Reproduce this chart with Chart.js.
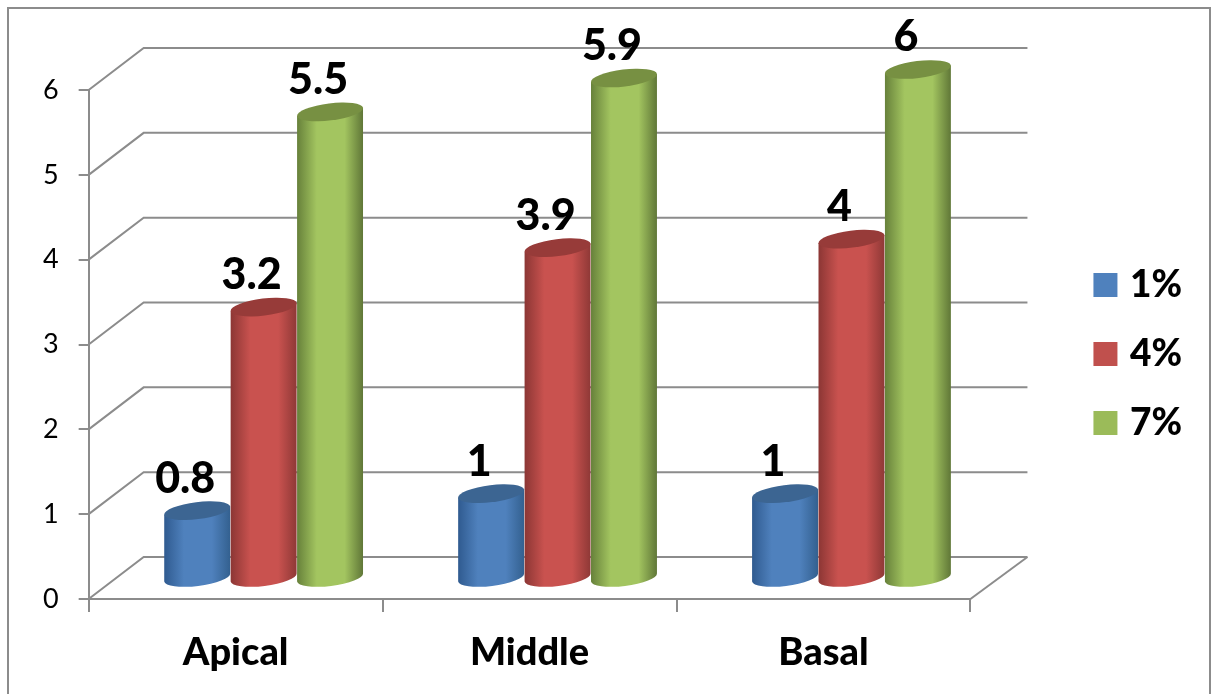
<!DOCTYPE html>
<html>
<head>
<meta charset="utf-8">
<title>Apical, Middle, Basal</title>
<script src="https://cdn.jsdelivr.net/npm/chart.js@4"></script>
<style>
    html, body { margin: 0; padding: 0; background: #fff; overflow: hidden; }
    #frame { position: absolute; left: 7px; top: 7px; width: 1200px; height: 720px; border: 2px solid #8c8c8c; }
    #chart { position: absolute; left: 0; top: 0; }
</style>
</head>
<body>
<div id="frame"></div>
<canvas id="chart" width="1213" height="694"></canvas>
<script>
var categories = ['Apical', 'Middle', 'Basal'];
var seriesNames = ['1%', '4%', '7%'];
var values1 = [0.8, 1, 1];
var values4 = [3.2, 3.9, 4];
var values7 = [5.5, 5.9, 6];
var yTicks = [0, 1, 2, 3, 4, 5, 6];

var GREY = '#8c8c8c';
// how far the back wall sits from the front plane
var WALL_DX = 55, WALL_DY = -42;
// the cylinders stand about halfway into the floor
var BAR_DX = 28, BAR_DY = -20.5;
var TILT = 7 * Math.PI / 180;

var shades = [
    { legend: '#4f81bd', edgeL: '#2f5a8f', mid: '#4f81bd', edgeR: '#33608f', lid: '#3c6592' },
    { legend: '#c0504d', edgeL: '#8b3634', mid: '#c9524f', edgeR: '#8e3836', lid: '#973b39' },
    { legend: '#9bbb59', edgeL: '#66803a', mid: '#a3c560', edgeR: '#5f7637', lid: '#779042' }
];

function drawCylinder(ctx, bar, shade) {
    var cx = bar.x + BAR_DX;
    var top = bar.y + BAR_DY;
    var base = bar.base + BAR_DY;
    var a = bar.width / 2;
    var b = 8.5;
    var tipX = a * Math.cos(TILT);
    var tipY = a * Math.sin(TILT);

    var side = ctx.createLinearGradient(cx - a, 0, cx + a, 0);
    side.addColorStop(0, shade.edgeL);
    side.addColorStop(0.3, shade.mid);
    side.addColorStop(0.5, shade.mid);
    side.addColorStop(0.72, shade.mid);
    side.addColorStop(1, shade.edgeR);

    ctx.beginPath();
    ctx.moveTo(cx - tipX, top + tipY);
    ctx.lineTo(cx - tipX, base + tipY);
    ctx.ellipse(cx, base, a, b, -TILT, Math.PI, 0, true);
    ctx.lineTo(cx + tipX, top - tipY);
    ctx.closePath();
    ctx.fillStyle = side;
    ctx.fill();

    ctx.beginPath();
    ctx.ellipse(cx, top, a, b, -TILT, 0, Math.PI * 2);
    ctx.fillStyle = shade.lid;
    ctx.fill();
}

// empty layout box, only reserves room next to the plot
function spacer(position, size) {
    return {
        position: position,
        weight: 10,
        fullSize: false,
        options: {},
        width: 0,
        height: 0,
        isHorizontal: function () { return position === 'top' || position === 'bottom'; },
        update: function (w, h) {
            this.width = this.isHorizontal() ? w : size;
            this.height = this.isHorizontal() ? size : h;
        },
        draw: function () {}
    };
}

var cylinders = {
    id: 'cylinders',
    start: function (chart) {
        Chart.layouts.addBox(chart, spacer('right', 97));
        Chart.layouts.addBox(chart, spacer('top', 57));
    },
    // floor and back wall lines, behind the bars
    beforeDatasetsDraw: function (chart) {
        var ctx = chart.ctx, y = chart.scales.y, area = chart.chartArea;
        ctx.save();
        ctx.strokeStyle = GREY;
        ctx.lineWidth = 2;
        yTicks.forEach(function (t) {
            var py = y.getPixelForValue(t);
            ctx.beginPath();
            ctx.moveTo(area.left, py);
            ctx.lineTo(area.left + WALL_DX, py + WALL_DY);
            ctx.lineTo(area.right + WALL_DX + 2, py + WALL_DY);
            ctx.stroke();
        });
        var floorY = y.getPixelForValue(0);
        ctx.beginPath();
        ctx.moveTo(area.right, floorY);
        ctx.lineTo(area.right + WALL_DX + 2, floorY + WALL_DY);
        ctx.stroke();
        ctx.restore();
    },
    // the library paints later series first, these have to go left to right
    beforeDatasetDraw: function () {
        return false;
    },
    afterDatasetsDraw: function (chart) {
        var ctx = chart.ctx;
        ctx.save();
        chart.data.datasets.forEach(function (ds, i) {
            chart.getDatasetMeta(i).data.forEach(function (bar) {
                drawCylinder(ctx, bar, shades[i]);
            });
        });
        // value labels on top of everything
        ctx.font = '900 43px Lato';
        ctx.fillStyle = '#000';
        ctx.textAlign = 'center';
        ctx.textBaseline = 'middle';
        chart.data.datasets.forEach(function (ds, i) {
            chart.getDatasetMeta(i).data.forEach(function (bar, j) {
                ctx.fillText(String(ds.data[j]), bar.x + BAR_DX - 12, bar.y + BAR_DY - 32);
            });
        });
        ctx.restore();
    }
};

// legend swatches are a 12px box with a 12px border, which closes the gap to the text
function series(i, values) {
    return {
        label: seriesNames[i],
        data: values,
        backgroundColor: shades[i].legend,
        borderColor: shades[i].legend,
        borderWidth: 12
    };
}

new Chart(document.getElementById('chart'), {
    type: 'bar',
    data: {
        labels: categories,
        datasets: [series(0, values1), series(1, values4), series(2, values7)]
    },
    plugins: [cylinders],
    options: {
        responsive: false,
        animation: false,
        layout: { padding: { left: 23, top: 33, right: 21, bottom: 19 } },
        datasets: { bar: { barPercentage: 1, categoryPercentage: 0.678 } },
        plugins: {
            tooltip: { enabled: false },
            legend: {
                position: 'right',
                labels: {
                    boxWidth: 12,
                    boxHeight: 12,
                    padding: 32,
                    color: '#000',
                    font: { family: 'Lato', weight: '900', size: 37 }
                }
            }
        },
        scales: {
            x: {
                afterFit: function (axis) {
                    axis.height = 76;
                },
                grid: { drawOnChartArea: false, color: GREY, lineWidth: 2, tickLength: 13 },
                border: { color: GREY, width: 2 },
                ticks: { color: '#000', padding: 18, maxRotation: 0, font: { family: 'Lato', weight: '900', size: 38 } }
            },
            y: {
                min: 0,
                max: 6,
                afterBuildTicks: function (axis) {
                    axis.ticks = yTicks.map(function (v) { return { value: v }; });
                },
                grid: { drawOnChartArea: false, color: GREY, lineWidth: 2, tickLength: 10 },
                border: { color: GREY, width: 2 },
                ticks: { color: '#000', padding: 20, font: { family: 'Lato', size: 27 } }
            }
        }
    }
});
</script>
</body>
</html>
